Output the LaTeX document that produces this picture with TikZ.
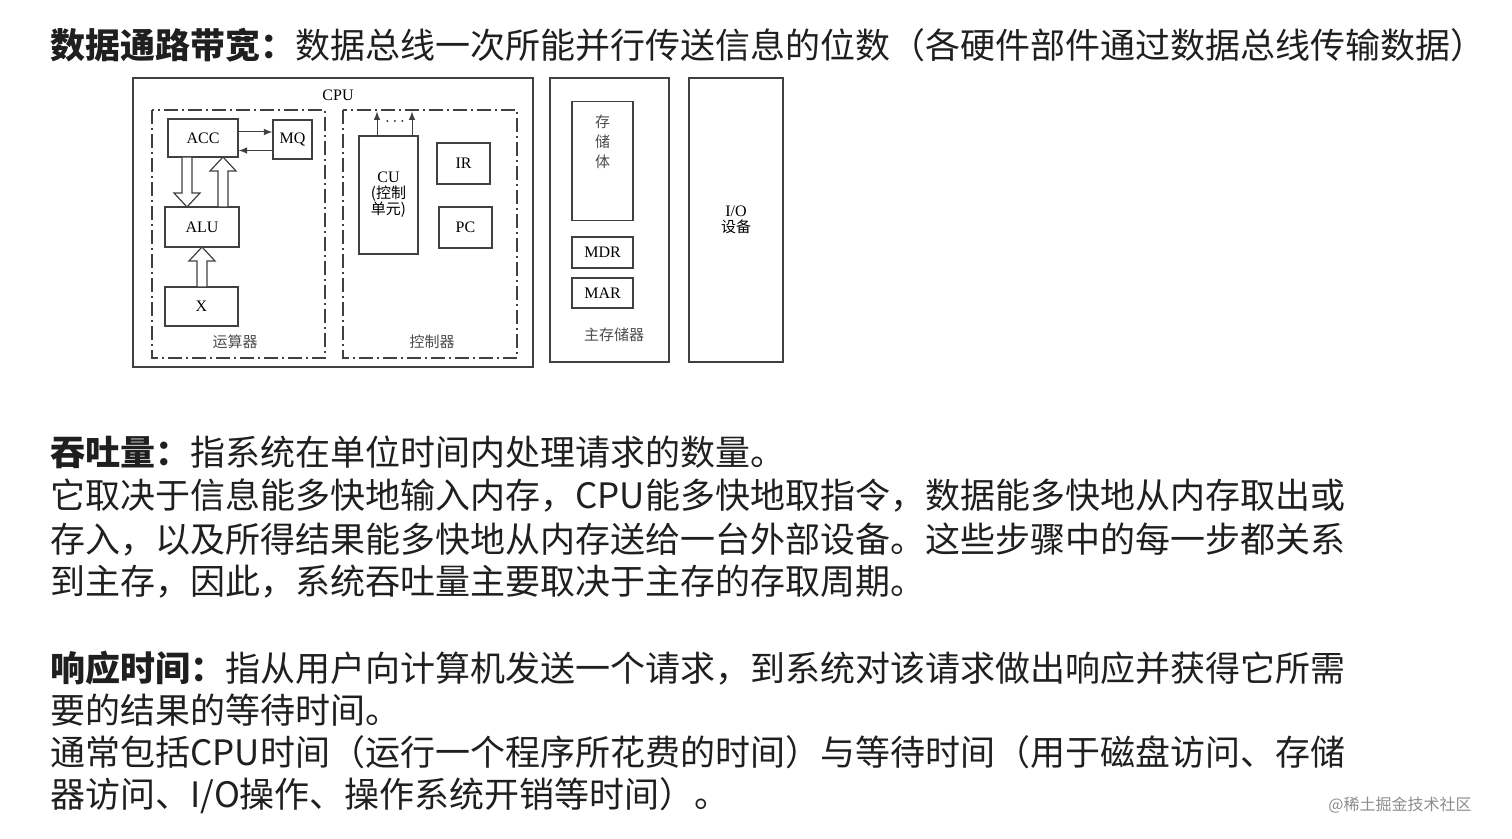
\documentclass[tikz,border=0pt]{standalone}
\usepackage{fontspec}
\setmainfont{Noto Sans CJK SC}
\newfontfamily\dserif{Liberation Serif}
\newfontfamily\dcjk{Noto Sans CJK SC}
\begin{document}
\begin{tikzpicture}[x=0.5pt,y=-0.5pt,
  box/.style={draw=black!75,line width=0.6pt,inner sep=0,font=\dserif\fontsize{8}{9}\selectfont},
  cjkl/.style={font=\dcjk\fontsize{7.5}{9}\selectfont,text=black!70,inner sep=0},
  dd/.style={draw=black!75,line width=0.6pt,dash pattern=on 7pt off 2pt on 1pt off 2pt},
  txt/.style={anchor=west,inner sep=0,font=\fontsize{17.5}{20}\selectfont,text=black!88},
  hol/.style={draw=black!75,line width=0.6pt,fill=white},
  arr/.style={draw=black!75,line width=0.5pt,-latex}]
\useasboundingbox (0,0) rectangle (1512,839);
% boxes
\node[box,minimum width=200pt,minimum height=144.5pt] (CPU) at (333,222.5) {};
\node[font=\dserif\fontsize{8}{9}\selectfont,inner sep=0] (cpul) at (338,95) {CPU};
\draw[dd] (152,110) rectangle (325,358);
\draw[dd] (343,110) rectangle (517,358);
\node[cjkl] (ysq) at (235,342) {运算器};
\node[cjkl] (kzq) at (432,342) {控制器};
\node[box,minimum width=35pt,minimum height=19pt] (ACC) at (203,138) {ACC};
\node[box,minimum width=19.5pt,minimum height=19.5pt] (MQ) at (292.5,139.5) {MQ};
\node[box,minimum width=37pt,minimum height=20pt] (ALU) at (202,227) {ALU};
\node[box,minimum width=36.5pt,minimum height=19.5pt] (X) at (201.5,306.5) {X};
\node[box,minimum width=29.5pt,minimum height=59pt,align=center] (CU) at (388.5,195) {CU\\[-1pt]{\dcjk\fontsize{7.5}{8.5}\selectfont (控制}\\[-1pt]{\dcjk\fontsize{7.5}{8.5}\selectfont 单元)}};
\node[box,minimum width=26.5pt,minimum height=20.5pt] (IR) at (463.5,163.5) {IR};
\node[box,minimum width=26.5pt,minimum height=20.5pt] (PC) at (465.5,227.5) {PC};
\node[box,minimum width=59.5pt,minimum height=142pt] (MEM) at (609.5,220) {};
\node[box,minimum width=30.5pt,minimum height=59.5pt,anchor=north,align=center,font=\dcjk\fontsize{7.5}{10}\selectfont,text=black!70] (CCT) at (602.5,101) {\\[-2pt]存\\储\\体\\[12pt]};
\node[box,minimum width=30.5pt,minimum height=15.5pt] (MDR) at (602.5,252.5) {MDR};
\node[box,minimum width=30.5pt,minimum height=15pt] (MAR) at (602.5,293) {MAR};
\node[cjkl] (zcc) at (614,335) {主存储器};
\node[box,minimum width=47pt,minimum height=142pt,align=center] (IO) at (736,220) {I/O\\[-1pt]{\dcjk\fontsize{7.5}{9}\selectfont 设备}};
% arrows
\draw[arr] ([yshift=3pt]ACC.east) -- ([yshift=3pt]ACC.east -| MQ.west);
\draw[arr] ([yshift=-5.5pt]MQ.west) -- ([yshift=-5.5pt]MQ.west -| ACC.east);
\draw[hol] (182,157)--(192,157)--(192,193)--(200,193)--(187,207)--(174,193)--(182,193)--cycle;
\draw[hol] (218,207)--(228,207)--(228,171)--(236,171)--(223,157)--(210,171)--(218,171)--cycle;
\draw[hol] (197,287)--(207,287)--(207,261)--(215,261)--(202,247)--(189,261)--(197,261)--cycle;
\draw[arr] ([xshift=-5.75pt]CU.north) -- ++(0,-24);
\draw[arr] ([xshift=11.75pt]CU.north) -- ++(0,-24);
\node[font=\dserif\fontsize{8}{9}\selectfont,inner sep=0] (dots) at (395,122) {$\cdots$};
% text
\node[txt] (t1) at (50,45) {\textbf{数据通路带宽：}数据总线一次所能并行传送信息的位数（各硬件部件通过数据总线传输数据）};
\node[txt] (t2) at (50,452) {\textbf{吞吐量：}指系统在单位时间内处理请求的数量。};
\node[txt] (t3) at (50,495) {它取决于信息能多快地输入内存，CPU能多快地取指令，数据能多快地从内存取出或};
\node[txt] (t4) at (50,540) {存入，以及所得结果能多快地从内存送给一台外部设备。这些步骤中的每一步都关系};
\node[txt] (t5) at (50,582) {到主存，因此，系统吞吐量主要取决于主存的存取周期。};
\node[txt] (t6) at (50,668) {\textbf{响应时间：}指从用户向计算机发送一个请求，到系统对该请求做出响应并获得它所需};
\node[txt] (t7) at (50,710) {要的结果的等待时间。};
\node[txt] (t8) at (50,752) {通常包括CPU时间（运行一个程序所花费的时间）与等待时间（用于磁盘访问、存储};
\node[txt] (t9) at (50,796) {器访问、I/O操作、操作系统开销等时间）。};
\node[anchor=west,inner sep=0,font=\fontsize{8}{9}\selectfont,text=black!45] (wm) at (1328,805) {@稀土掘金技术社区};
\end{tikzpicture}
\end{document}
